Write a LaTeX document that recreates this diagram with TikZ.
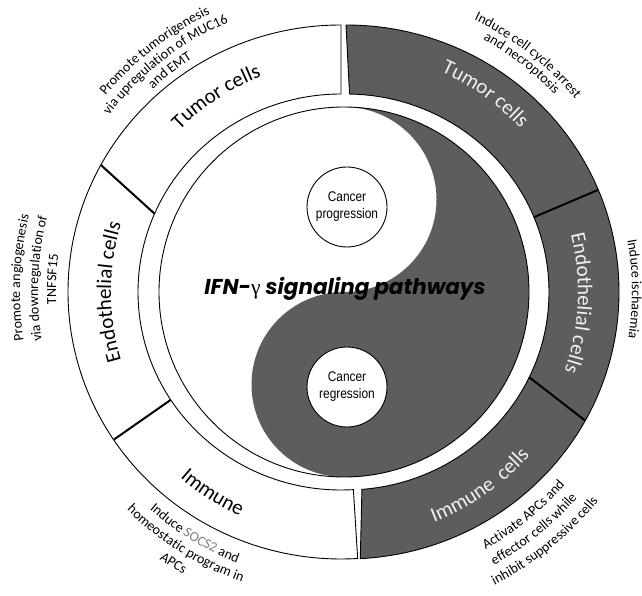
\documentclass[tikz,border=0pt]{standalone}
\usepackage{fontspec}
\usepackage{graphicx}
\usetikzlibrary{calc,decorations.text}
\newfontfamily\calib{Carlito}
\newfontfamily\titlefont{Poppins}
\newfontfamily\greekf{Liberation Serif}
\newfontfamily\smallf{Liberation Sans}
\definecolor{segdark}{RGB}{93,93,93}
\definecolor{labelwhite}{RGB}{240,240,240}
\newcommand{\cwtext}[5]{%
  \path[decorate,decoration={text along path,text align=center,text color=#4,
    text={|\calib\fontsize{#3}{#3}\selectfont|#5}}]
    ($(C)+(#1+40:#2)$) arc[start angle=#1+40,end angle=#1-40,radius=#2];}
\newcommand{\ccwtext}[5]{%
  \path[decorate,decoration={text along path,text align=center,text color=#4,
    text={|\calib\fontsize{#3}{#3}\selectfont|#5}}]
    ($(C)+(#1-40:#2)$) arc[start angle=#1-40,end angle=#1+40,radius=#2];}
\begin{document}
\begin{tikzpicture}[x=1pt,y=1pt,
  ringline/.style={draw=black,line width=0.9pt},
  sepline/.style={draw=black,line width=2pt},
  smallcirc/.style={circle,draw=black,line width=0.9pt,fill=white,minimum size=80pt,inner sep=0pt,align=center,font=\smallf\fontsize{14}{17}\selectfont},
  titlestyle/.style={font=\titlefont\fontsize{21.5}{26}\selectfont\bfseries\itshape,inner sep=0pt}]
\useasboundingbox (0,0) rectangle (642,595);
\fill[white] (0,0) rectangle (642,595);
\coordinate (C) at (343,303);
\coordinate (W) at (341,303);
\coordinate (D) at (346,303);
\coordinate (Y) at (344,303);
% white half ring
\path[ringline,fill=white] ($(W)+(90:273 and 267)$) arc[start angle=90,end angle=273.5,x radius=273,y radius=267]
  -- ($(W)+(273.5:203 and 198)$) arc[start angle=273.5,end angle=90,x radius=203,y radius=198] -- cycle;
% dark half ring
\path[ringline,fill=segdark] ($(D)+(90:273 and 267)$) arc[start angle=90,end angle=-87,x radius=273,y radius=267]
  -- ($(D)+(-85.5:203 and 198)$) arc[start angle=-85.5,end angle=89,x radius=203,y radius=198] -- cycle;
% separators
\draw[sepline] ($(W)+(151.6:273 and 267)$) -- ($(W)+(156.7:203 and 198)$);
\draw[sepline] ($(W)+(213.6:273 and 267)$) -- ($(W)+(213:203 and 198)$);
\draw[sepline] ($(D)+(22.5:273 and 267)$) -- ($(D)+(22.2:203 and 198)$);
\draw[sepline] ($(D)+(-28.8:273 and 267)$) -- ($(D)+(-25.5:203 and 198)$);
% yin-yang
\fill[segdark] ($(Y)+(0,185)$) arc[start angle=90,end angle=-90,radius=185]
  arc[start angle=-90,end angle=-270,radius=92.5]
  arc[start angle=-90,end angle=90,radius=92.5] -- cycle;
\draw[line width=0.9pt] (Y) circle (185);
% small circles
\node[smallcirc] (prog) at (347,388) {\scalebox{0.85}[1]{Cancer}\\\scalebox{0.85}[1]{progression}};
\node[smallcirc] (regr) at (347,208) {\scalebox{0.85}[1]{Cancer}\\\scalebox{0.85}[1]{regression}};
% title
\node[titlestyle,anchor=base] (title) at (345,301) {IFN-{\greekf\mdseries\upshape γ} signaling pathways};
% ring labels
\cwtext{123}{230}{21}{black}{Tumor cells}
\cwtext{180}{232}{21}{black}{Endothelial cells}
\ccwtext{237}{247}{21}{black}{Immune}
\cwtext{54.3}{241}{21}{labelwhite}{Tumor cells}
\cwtext{-2.7}{235}{21}{labelwhite}{Endothelial cells}
\ccwtext{-54.8}{248}{21}{labelwhite}{Immune{\ \ }cells}
% annotations
\cwtext{128}{308}{14}{black}{Promote tumorigenesis}
\cwtext{128}{293}{14}{black}{via upregulation of MUC16}
\cwtext{128}{278}{14}{black}{and EMT}
\cwtext{52}{302}{14}{black}{Induce cell cycle arrest}
\cwtext{52}{289}{14}{black}{and necroptosis}
\cwtext{0.6}{289}{14}{black}{Induce ischaemia}
\cwtext{177.5}{323}{14}{black}{Promote angiogenesis}
\cwtext{177.5}{305}{14}{black}{via downregulation of}
\cwtext{177.5}{287}{14}{black}{TNFSF15}
\ccwtext{238.5}{291}{14}{black}{Induce |\calib\fontsize{14}{14}\selectfont\color{gray}|SOCS2|\calib\fontsize{14}{14}\selectfont\color{black}| and}
\ccwtext{238}{307}{14}{black}{homeostatic program in}
\ccwtext{238}{324}{14}{black}{APCs}
\ccwtext{-51}{294}{14}{black}{Activate APCs and}
\ccwtext{-51.2}{312}{14}{black}{effector cells while}
\ccwtext{-51}{330}{14}{black}{inhibit suppressive cells}
\end{tikzpicture}
\end{document}
